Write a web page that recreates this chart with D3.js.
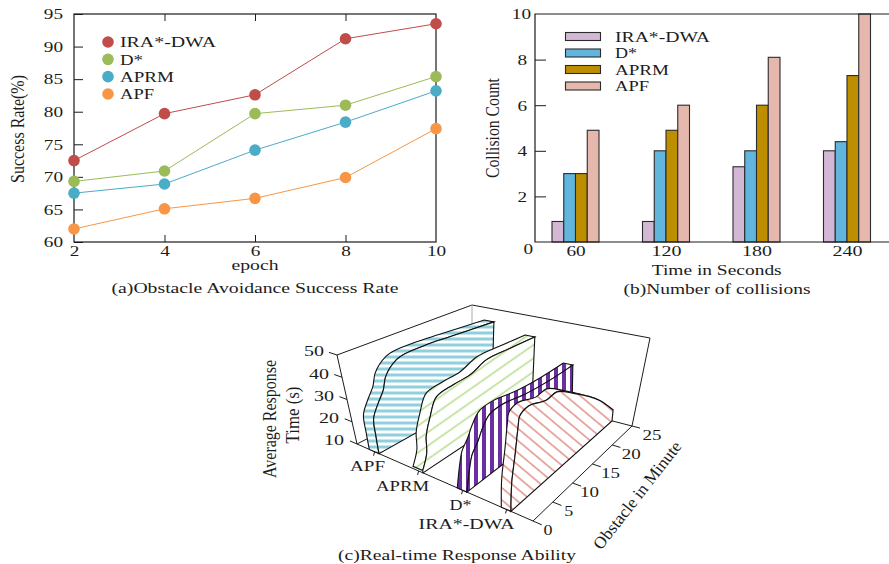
<!DOCTYPE html>
<html>
<head>
<meta charset="utf-8">
<script src="https://cdn.jsdelivr.net/npm/d3@7"></script>
<style>
	html,body{margin:0;padding:0;background:#fff;overflow:hidden}
</style>
</head>
<body>
<div id="chart"></div>
<script>
// panel a
var epochs=[2,4,6,8,10]
var lineNames=["IRA*-DWA","D*","APRM","APF"]
var rateIRA=[72.5,79.7,82.6,91.2,93.5]
var rateD=[69.3,70.9,79.7,81,85.4]
var rateAPRM=[67.5,68.9,74.1,78.4,83.2]
var rateAPF=[62,65.1,66.7,69.9,77.4]
var rateTicks=[60,65,70,75,80,85,90,95]
var lineColors=["#bf4d4a","#9bbb59","#4bacc6","#f79646"]

// panel b
var seconds=["60","120","180","240"]
var countIRA=[0.9,0.9,3.3,4]
var countD=[3,4,4,4.4]
var countAPRM=[3,4.9,6,7.3]
var countAPF=[4.9,6,8.1,10]
var countTicks=[0,2,4,6,8,10]
var barColors=["#d3b8d6","#62b5dd","#bd8e00","#e6b8ad"]

// panel c, one obstacle/time pair of arrays per ribbon
var ribbonNames=["APF","APRM","D*","IRA*-DWA"]
var obsAPF=[0,0.05,0.25,1.6,3,3.75,6.25,11.5,16.5,25]
var timeAPF=[10,17.5,25.4,30.6,35.2,40,45.5,46.5,45.6,43.7]
var obsAPRM=[0,1.25,1.5,2.7,4.3,7.75,11.25,14.6,19.5,24.5]
var timeAPRM=[11,16.9,23.8,31,37.8,39.1,39.5,42.4,42,41.2]
var obsD=[0,0.9,1.4,3,3.75,5.6,8.5,12.9,18.75,23.75]
var timeD=[10,19.4,23.2,27.9,31,35.7,36.3,34.4,33.2,33.2]
var obsIRA=[0,0.05,0.75,1.25,1.5,3.3,7.5,9.75,13.75,20.75,24.75]
var timeIRA=[10,21.4,32.6,42.7,46.5,48.3,45.4,45.8,39.6,26,15.4]
var timeTicks=[10,20,30,40,50]
var obsTicks=[0,5,10,15,20,25]
var ribbonColors=["#8fd0de","#b5dc8a","#6a2fa0","#dd7f75"]

var serif="'Liberation Serif','Times New Roman',serif"
var tinta="#1c1c1c"

var svg=d3.select("#chart").append("svg")
	.attr("width",889)
	.attr("height",564)

function texto(g,x,y,str,ancho,rot,tam){
	var t=g.append("text")
		.attr("font-family",serif)
		.attr("font-size",tam||15)
		.attr("fill",tinta)
		.attr("text-anchor","middle")
		.attr("dy",".35em")
		.attr("textLength",ancho)
		.attr("lengthAdjust","spacingAndGlyphs")
		.text(str)
	if(rot) t.attr("transform","translate("+x+","+y+") rotate("+rot+")")
	else t.attr("x",x).attr("y",y)
	return t
}

function estiloTicks(eje){
	eje.selectAll("text")
		.attr("font-family",serif)
		.attr("font-size",15)
		.attr("fill",tinta)
		.attr("textLength",function(d){return String(d).length*(String(d).length>2?10:9.6)})
		.attr("lengthAdjust","spacingAndGlyphs")
	eje.selectAll("line").attr("stroke",tinta).attr("stroke-width",1)
	eje.select("path").remove()
}

panelA()
panelB()
panelC()

function panelA(){
	var g=svg.append("g")
	var x=d3.scaleLinear().domain([2,10]).range([74,436])
	var y=d3.scaleLinear().domain([60,95]).range([242,14])

	var ejeY=g.append("g").attr("transform","translate(74,0)")
		.call(d3.axisLeft(y).tickValues(rateTicks).tickSize(-9).tickPadding(11))
	estiloTicks(ejeY)
	ejeY.selectAll("text").attr("text-anchor","end")

	var ejeX=g.append("g").attr("transform","translate(0,242)")
		.call(d3.axisBottom(x).tickValues(epochs).tickSize(-7).tickPadding(3))
	estiloTicks(ejeX)
	ejeX.selectAll("line").filter(function(d){return d==2||d==10}).remove()

	// ticks de arriba
	g.append("g").attr("transform","translate(0,14)")
		.call(d3.axisBottom(x).tickValues(epochs.slice(1,4)).tickSize(7).tickFormat(""))
		.call(function(s){s.select("path").remove();s.selectAll("line").attr("stroke",tinta)})

	g.append("rect")
		.attr("x",74).attr("y",14).attr("width",362).attr("height",228)
		.attr("fill","none").attr("stroke",tinta).attr("stroke-width",1.2)

	var series=[rateIRA,rateD,rateAPRM,rateAPF]
	var linea=d3.line().x(function(d,i){return x(epochs[i])}).y(function(d){return y(d)})
	series.forEach(function(s,k){
		g.append("path").attr("d",linea(s)).attr("fill","none")
			.attr("stroke",lineColors[k]).attr("stroke-width",1)
		g.selectAll(".m"+k).data(s).enter().append("circle")
			.attr("cx",function(d,i){return x(epochs[i])})
			.attr("cy",function(d){return y(d)})
			.attr("r",5.8)
			.attr("fill",lineColors[k])
	})

	// leyenda
	var anchos=[96,23,54,34]
	var ly=d3.scalePoint().domain(lineNames).range([42,94])
	lineNames.forEach(function(n,k){
		g.append("circle").attr("cx",108).attr("cy",ly(n)).attr("r",5.8).attr("fill",lineColors[k])
		texto(g,120+anchos[k]/2,ly(n),n,anchos[k])
	})

	texto(g,255,265,"epoch",47)
	texto(g,255,288,"(a)Obstacle Avoidance Success Rate",287)
	texto(g,18,129,"Success Rate(%)",108,-90,18)
}

function panelB(){
	var g=svg.append("g")
	var x=d3.scalePoint().domain(seconds).range([575.5,847])
	var y=d3.scaleLinear().domain([0,10]).range([242,14])
	var sub=d3.scaleBand().domain(lineNames).range([-23.5,23.5])

	var ejeY=g.append("g").attr("transform","translate(535,0)")
		.call(d3.axisLeft(y).tickValues(countTicks).tickSize(-11).tickPadding(7))
	estiloTicks(ejeY)
	ejeY.selectAll("text").attr("text-anchor","end")
		.attr("dx",function(d){return d==0?5:(d==10?3:-1)})
		.attr("dy",function(d){return d==0?".75em":".32em"})
	ejeY.selectAll("line").filter(function(d){return d==0||d==10}).remove()

	var ejeX=g.append("g").attr("transform","translate(0,242)")
		.call(d3.axisBottom(x).tickSize(0).tickPadding(3))
	estiloTicks(ejeX)

	var series=[countIRA,countD,countAPRM,countAPF]
	series.forEach(function(s,k){
		g.selectAll(".b"+k).data(s).enter().append("rect")
			.attr("x",function(d,i){return x(seconds[i])+sub(lineNames[k])})
			.attr("y",function(d){return y(d)})
			.attr("width",sub.bandwidth())
			.attr("height",function(d){return y(0)-y(d)})
			.attr("fill",barColors[k])
			.attr("stroke","#2b2b2b")
			.attr("stroke-width",1.1)
	})

	g.append("path").attr("d",d3.line()([[889,14],[535,14],[535,242],[889,242]]))
		.attr("fill","none").attr("stroke",tinta).attr("stroke-width",1.2)

	// leyenda
	var anchos=[95,22,54,34]
	var ly=d3.scalePoint().domain(lineNames).range([36.5,86])
	lineNames.forEach(function(n,k){
		g.append("rect").attr("x",565.5).attr("y",ly(n)-4).attr("width",35).attr("height",8)
			.attr("fill",barColors[k]).attr("stroke","#2b2b2b").attr("stroke-width",1.1)
		texto(g,615+anchos[k]/2,ly(n),n,anchos[k])
	})

	texto(g,716.7,270,"Time in Seconds",130)
	texto(g,717,289,"(b)Number of collisions",187)
	texto(g,493,128,"Collision Count",100,-90,18)
}

function panelC(){
	var g=svg.append("g")
	var defs=svg.append("defs")

	// esquinas de la caja: suelo y techo
	var sueloL=[357,444],sueloF=[533,521],sueloR=[632,426],sueloB=[472,385]
	var techoL=[337,355],techoF=[538,421],techoR=[650,338],techoB=[472,305]

	var escU=d3.scalePoint().domain(ribbonNames).range([0,1]).padding(.5).align(.4)
	var escV=d3.scaleLinear().domain([0,25]).range([0,1])
	var escT=d3.scaleLinear().domain([10,50]).range([0,1])

	function bilineal(a,b,c,d,u,v,k){
		var delante=a[k]+(b[k]-a[k])*u
		var detras=d[k]+(c[k]-d[k])*u
		return delante+(detras-delante)*v
	}
	// u: categoria, obs: minuto, t: tiempo de respuesta
	function proyecta(u,obs,t){
		var v=escV(obs),w=escT(t)
		return [0,1].map(function(k){
			var s=bilineal(sueloL,sueloF,sueloR,sueloB,u,v,k)
			var c=bilineal(techoL,techoF,techoR,techoB,u,v,k)
			return s+(c-s)*w
		})
	}

	// rayados
	var rayas=[
		{w:6,ang:0,sw:3},
		{w:11,ang:-35,sw:1.5},
		{w:8,ang:90,sw:4},
		{w:9.3,ang:40,sw:1.3}
	]
	rayas.forEach(function(r,k){
		var p=defs.append("pattern")
			.attr("id","raya"+k)
			.attr("patternUnits","userSpaceOnUse")
			.attr("width",r.w).attr("height",r.w)
			.attr("patternTransform","rotate("+r.ang+")")
		p.append("rect").attr("width",r.w).attr("height",r.w).attr("fill","#fff")
		p.append("line").attr("x1",0).attr("x2",r.w).attr("y1",r.w/2).attr("y2",r.w/2)
			.attr("stroke",ribbonColors[k]).attr("stroke-width",r.sw)
	})

	// caja
	var caja=d3.line()
	g.append("path").attr("d",caja([sueloF,sueloL,sueloB,sueloR,sueloF])).attr("fill","none").attr("stroke",tinta)
	g.append("path").attr("d",caja([sueloL,techoL,techoB,techoR,sueloR])).attr("fill","none").attr("stroke",tinta)
	g.append("path").attr("d",caja([sueloB,techoB])).attr("fill","none").attr("stroke","#aaa")

	// ticks y etiquetas
	timeTicks.forEach(function(t){
		g.append("path").attr("d",caja([proyecta(0,0,t),proyecta(-.04,0,t)])).attr("stroke",tinta)
		var p=proyecta(0,0,t)
		texto(g,p[0]-13-10,p[1]-4,String(t),20)
	})
	obsTicks.forEach(function(o){
		g.append("path").attr("d",caja([proyecta(1,o,10),proyecta(1.05,o,10)])).attr("stroke",tinta)
		var p=proyecta(1,o,10)
		texto(g,p[0]+15+o*.2,p[1]+9,String(o),o<10?9:19)
	})
	var catDx=[-7,-16,-2,-40],catAncho=[35,53,22,96]
	ribbonNames.forEach(function(n,k){
		var p=proyecta(escU(n),0,10)
		g.append("path").attr("d",caja([p,[p[0]-1,p[1]+4]])).attr("stroke",tinta)
		texto(g,p[0]+catDx[k],p[1]+14.5,n,catAncho[k])
	})

	// cintas, de atras hacia delante
	var curva=d3.line().curve(d3.curveCatmullRom.alpha(1))
	var obsSeries=[obsAPF,obsAPRM,obsD,obsIRA]
	var timeSeries=[timeAPF,timeAPRM,timeD,timeIRA]
	ribbonNames.forEach(function(n,k){
		var uIn=escU(n)+.025,uOut=escU(n)-.03
		var dentro=obsSeries[k].map(function(o,i){return proyecta(uIn,o,timeSeries[k][i])})
		var fuera=obsSeries[k].map(function(o,i){return proyecta(uOut,o,timeSeries[k][i])})
		var bandaD=curva(fuera)+"L"+curva(dentro.slice().reverse()).slice(1)+"Z"
		var paredD=curva(dentro)+"L"+proyecta(uIn,25,10)+"L"+proyecta(uIn,0,10)+"Z"
		g.append("path").attr("d",bandaD)
			.attr("fill","url(#raya"+k+")").attr("stroke","#111").attr("stroke-width",1.1)
		g.append("path").attr("d",paredD)
			.attr("fill","url(#raya"+k+")").attr("stroke","#111").attr("stroke-width",1.1)
	})

	texto(g,457,555,"(c)Real-time Response Ability",238)
	texto(g,270,419,"Average Response",118,-90,18)
	texto(g,293,415,"Time (s)",57,-90,18)
	texto(g,637,495,"Obstacle in Minute",132,-52,17)
}
</script>
</body>
</html>
